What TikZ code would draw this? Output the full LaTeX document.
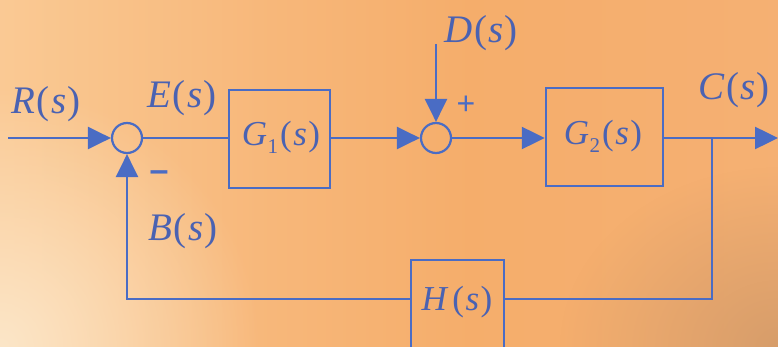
\documentclass[tikz,border=0pt]{standalone}
\usepackage{fontspec}
\setmainfont{Liberation Serif}
\newfontfamily\signfont{Liberation Sans}
\usetikzlibrary{arrows.meta,fadings}
\definecolor{ln}{HTML}{4A6CC4}
\definecolor{tx}{HTML}{4A62B2}
\definecolor{cream}{HTML}{FCE6C8}
\definecolor{tan}{HTML}{CF9868}
\pgfdeclarehorizontalshading{bgsh}{100bp}{rgb(0bp)=(0.98,0.79,0.58); rgb(25bp)=(0.98,0.79,0.58); rgb(42bp)=(0.97,0.72,0.48); rgb(55bp)=(0.96,0.68,0.42); rgb(75bp)=(0.96,0.69,0.45); rgb(100bp)=(0.96,0.69,0.45)}
\tikzfading[name=rfade, inner color=transparent!0, outer color=transparent!100]
\newcommand{\fn}[2]{\textit{#1}\kern1.5pt(\kern1.5pt\textit{#2}\kern1pt)}
\newcommand{\fnsub}[3]{\textit{#1}\kern0.5pt\raisebox{-8pt}{\fontsize{21}{22}\selectfont #2}\kern2pt(\kern1.5pt\textit{#3}\kern1.5pt)}
\begin{document}
\begin{tikzpicture}[x=1pt,y=-1pt,
  wire/.style={draw=ln, line width=2.5pt},
  arr/.style={wire, -{Triangle[length=23pt,width=22pt]}},
  blk/.style={draw=ln, line width=2.5pt, inner sep=0pt},
  sumc/.style={circle, draw=ln, line width=2.2pt, minimum size=30pt, inner sep=0pt},
  lab/.style={text=tx, font=\fontsize{39}{44}\selectfont, inner sep=0pt},
  blab/.style={text=tx, font=\fontsize{35}{40}\selectfont, inner sep=0pt},
  sgn/.style={text=ln, font=\signfont, inner sep=0pt}]
\useasboundingbox (0,0) rectangle (778,347);
% background
\shade[shading=bgsh] (0,0) rectangle (778,347);
\fill[cream, path fading=rfade] (-260,87) rectangle (260,607);
\fill[tan, path fading=rfade, opacity=0.8] (560,167) rectangle (1000,527);
\begin{scope}
\clip (0,0) rectangle (778,347);
% nodes
\coordinate (in) at (8,138);
\node[sumc] (s1) at (127,138) {};
\node[blk, minimum width=101pt, minimum height=98pt] (g1) at (279.5,139) {};
\node[blab] at (281,137) {\fnsub{G}{1}{s}};
\node[sumc] (s2) at (436,138) {};
\coordinate (din) at (436,44);
\node[blk, minimum width=117pt, minimum height=98pt] (g2) at (604.5,137) {};
\node[blab] at (603,136) {\fnsub{G}{2}{s}};
\coordinate (out) at (778,138);
\coordinate (br) at (712,138);
\coordinate (fb) at (712,299);
\node[blk, minimum width=93pt, minimum height=90pt] (h) at (457.5,305) {};
\node[blab] at (457,302) {\textit{H}\kern4pt(\kern1.5pt\textit{s}\kern1.5pt)};
% connectors
\draw[arr] (in) -- (s1.west);
\draw[wire] (s1.east) -- (g1.west |- s1.east);
\draw[arr] (g1.east |- s2.west) -- (s2.west);
\draw[arr] (din) -- (s2.north);
\draw[arr] (s2.east) -- (g2.west |- s2.east);
\draw[arr] (g2.east |- out) -- (out);
\draw[wire] (br) -- (fb) -- (h.east |- fb);
\draw[arr] (h.west |- fb) -| (s1.south);
% labels
\node[lab] at (46,104) {\fn{R}{s}};
\node[lab] at (182,98) {\fn{E}{s}};
\node[lab] at (183,231) {\fn{B}{s}};
\node[lab] at (481,33) {\fn{D}{s}};
\node[lab] at (734,90) {\fn{C}{s}};
\node[sgn, font=\signfont\bfseries\fontsize{34}{36}\selectfont] at (159,176) {–};
\node[sgn, font=\signfont\fontsize{32}{34}\selectfont] at (466,105) {+};
\end{scope}
\end{tikzpicture}
\end{document}
